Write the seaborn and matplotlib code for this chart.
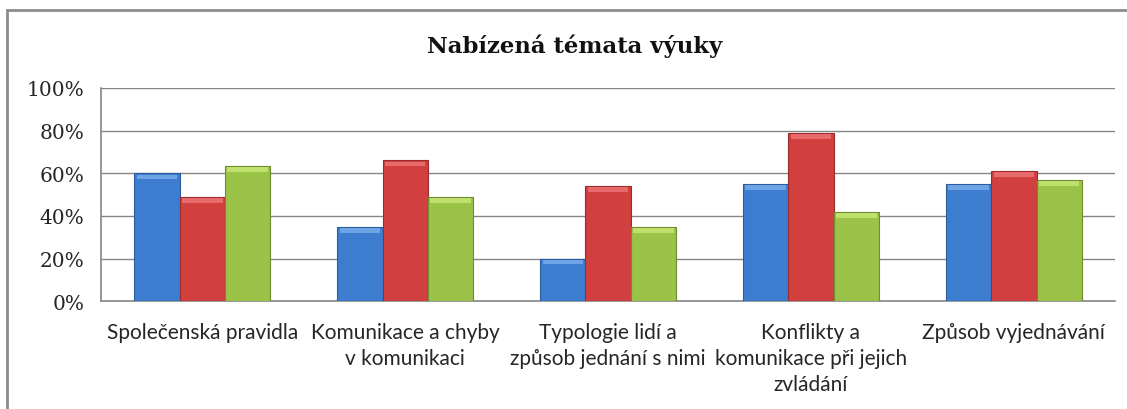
import pandas as pd
import matplotlib
matplotlib.use("Agg")
import matplotlib.pyplot as plt
import seaborn as sns
from matplotlib.patches import Rectangle
from matplotlib.ticker import FuncFormatter

topics = ["Společenská pravidla", "Komunikace a chyby\nv komunikaci",
          "Typologie lidí a\nzpůsob jednání s nimi",
          "Konflikty a\nkomunikace při jejich\nzvládání", "Způsob vyjednávání"]
series = ["Řada 1", "Řada 2", "Řada 3"]
blue_vals = [60, 35, 20, 55, 55]
red_vals = [49, 66, 54, 79, 61]
green_vals = [63.5, 49, 35, 42, 57]
colors = ["#3D7DCF", "#D13F3F", "#9BC347"]
edges = ["#2B5C9C", "#9C2B2B", "#6E8C2E"]
tops = ["#7FB2EE", "#F07A7A", "#CDEB7A"]

df = pd.DataFrame({
    "topic": topics * 3,
    "series": [s for s in series for _ in topics],
    "value": blue_vals + red_vals + green_vals,
})

sns.set_style("white")
fig = plt.figure(figsize=(11.27, 4.10), dpi=100)
ax = fig.add_axes([0.0896, 0.263, 0.9, 0.52])

sns.barplot(data=df, x="topic", y="value", hue="series", palette=colors,
            width=0.67, saturation=1, legend=False, ax=ax, zorder=3)

# edges and a light bevel strip on top of each bar
for i, bars in enumerate(ax.containers):
    for p in bars:
        p.set_edgecolor(edges[i])
        p.set_linewidth(0.8)
        h = p.get_height()
        ax.add_patch(Rectangle((p.get_x() + 0.012, h - 2.8), p.get_width() - 0.024, 2.2,
                               color=tops[i], alpha=0.75, zorder=4, lw=0))

ax.set_ylim(0, 100)
ax.set_xlim(-0.5, len(topics) - 0.5)
ax.set_yticks(range(0, 101, 20))
ax.yaxis.set_major_formatter(FuncFormatter(lambda v, _: f"{int(v)}%"))
ax.grid(axis="y", color="#868686", lw=1, zorder=0)
ax.set_xlabel("")
ax.set_ylabel("")

for side in ["top", "right"]:
    ax.spines[side].set_visible(False)
for side in ["left", "bottom"]:
    ax.spines[side].set_color("#868686")
    ax.spines[side].set_linewidth(1.2)

ax.tick_params(axis="y", length=7, color="#868686", labelsize=14.5, pad=5)
for t in ax.get_yticklabels():
    t.set_family("DejaVu Serif")
ax.set_xticks(range(len(topics)))
ax.set_xticks([x - 0.5 for x in range(len(topics) + 1)], minor=True)
ax.tick_params(axis="x", which="major", length=0, pad=15)
ax.tick_params(axis="x", which="minor", length=8, color="#868686")
ax.set_xticklabels(topics, fontsize=15, family="Lato", linespacing=1.38)

fig.text(0.51, 0.888, "Nabízená témata výuky", ha="center", va="center",
         fontsize=16.4, fontweight="bold", family="DejaVu Serif", color="#111111")

fig.patches.append(Rectangle((0.006, -0.2), 1.2, 1.173, transform=fig.transFigure,
                             fill=False, edgecolor="#8C8C8C", lw=2))

fig.savefig("out.png", dpi=100)
